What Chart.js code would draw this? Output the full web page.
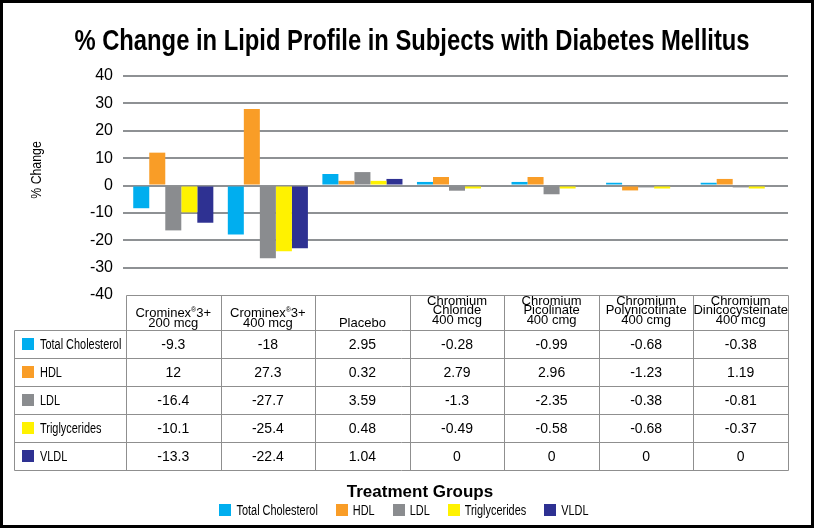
<!DOCTYPE html>
<html><head><meta charset="utf-8">
<script src="https://cdn.jsdelivr.net/npm/chart.js@4.4.1/dist/chart.umd.min.js"></script>
<style>html,body{margin:0;padding:0;background:#fff;} #wrap{width:814px;height:528px;position:relative;}</style>
</head><body><div id="wrap"><canvas id="c" width="814" height="528"></canvas></div>
<script>
const chartTitle = '% Change in Lipid Profile in Subjects with Diabetes Mellitus';
const yAxisTitle = '% Change';
const xAxisTitle = 'Treatment Groups';
const groups = [['Crominex®3+','200 mcg'],['Crominex®3+','400 mcg'],['Placebo'],['Chromium','Chloride','400 mcg'],['Chromium','Picolinate','400 cmg'],['Chromium','Polynicotinate','400 cmg'],['Chromium','Dinicocysteinate','400 mcg']];
const seriesNames = ['Total Cholesterol','HDL','LDL','Triglycerides','VLDL'];
// bar heights as drawn in the picture
const totalCholesterol = [-8.3,-17.9,4.2,1.3,1.3,1.0,1.0];
const hdl = [12.0,27.9,1.7,3.1,3.1,-1.8,2.4];
const ldl = [-16.4,-26.6,4.9,-1.9,-3.2,-0.7,-0.7];
const triglycerides = [-9.8,-24.0,1.7,-1.1,-1.1,-1.1,-1.1];
const vldl = [-13.6,-22.9,2.4,0,0,0,0];
// data table text
const tableTotalCholesterol = ['-9.3','-18','2.95','-0.28','-0.99','-0.68','-0.38'];
const tableHdl = ['12','27.3','0.32','2.79','2.96','-1.23','1.19'];
const tableLdl = ['-16.4','-27.7','3.59','-1.3','-2.35','-0.38','-0.81'];
const tableTriglycerides = ['-10.1','-25.4','0.48','-0.49','-0.58','-0.68','-0.37'];
const tableVldl = ['-13.3','-22.4','1.04','0','0','0','0'];
const yMin = -40, yMax = 40, yStep = 10;

const seriesColors = ['#00AEEF','#F99D27','#8A8C8F','#FFF200','#2E3192'];
const seriesData = [totalCholesterol, hdl, ldl, triglycerides, vldl];
const tableRows = [tableTotalCholesterol, tableHdl, tableLdl, tableTriglycerides, tableVldl];

const GRID = '#8e9194';
const TABLE_LINE = '#8f8f8f';
const SANS = "'Liberation Sans',Arial,sans-serif";

// draw text horizontally condensed (Arial Narrow look)
function narrowText(ctx, text, x, y, font, k, align) {
  ctx.save();
  ctx.font = font;
  const w = ctx.measureText(text).width * k;
  let sx = x;
  if (align === 'center') sx = x - w / 2; else if (align === 'right') sx = x - w;
  ctx.translate(sx, y); ctx.scale(k, 1);
  ctx.textAlign = 'left';
  ctx.fillText(text, 0, 0);
  ctx.restore();
  return w;
}
function narrowWidth(ctx, text, font, k) { ctx.save(); ctx.font = font; const w = ctx.measureText(text).width * k; ctx.restore(); return w; }

function drawRich(ctx, text, cx, y, size) {
  const parts = text.split('®');
  ctx.font = size + 'px ' + SANS;
  if (parts.length === 1) { ctx.textAlign = 'center'; ctx.fillText(text, cx, y); return; }
  const small = Math.round(size * 0.55);
  ctx.font = size + 'px ' + SANS; const w1 = ctx.measureText(parts[0]).width; const w3 = ctx.measureText(parts[1]).width;
  ctx.font = small + 'px ' + SANS; const w2 = ctx.measureText('®').width;
  let x = cx - (w1 + w2 + w3) / 2;
  ctx.textAlign = 'left';
  ctx.font = size + 'px ' + SANS; ctx.fillText(parts[0], x, y); x += w1;
  ctx.font = small + 'px ' + SANS; ctx.fillText('®', x, y - size * 0.38); x += w2;
  ctx.font = size + 'px ' + SANS; ctx.fillText(parts[1], x, y);
}

const decorPlugin = {
  id: 'decor',
  afterDraw(chart) {
    const ctx = chart.ctx, ca = chart.chartArea, xs = chart.scales.x;
    const n = chart.data.labels.length, w = (ca.right - ca.left) / n;
    ctx.save();
    ctx.fillStyle = '#000';
    ctx.textBaseline = 'alphabetic';
    // main title
    narrowText(ctx, chartTitle, 412, 50, 'bold 29px ' + SANS, 0.82, 'center');
    // y axis title
    ctx.save(); ctx.translate(37, 170); ctx.rotate(-Math.PI / 2);
    ctx.textBaseline = 'middle';
    narrowText(ctx, yAxisTitle, 0, 0, '15px ' + SANS, 0.82, 'center');
    ctx.restore();
    // table grid
    const top = Math.round(ca.bottom), headH = 35, rowH = 28, legL = 14;
    const bottom = top + headH + rowH * tableRows.length;
    const px = v => Math.round(v) + 0.5;
    ctx.strokeStyle = TABLE_LINE; ctx.lineWidth = 1;
    ctx.beginPath();
    ctx.moveTo(px(ca.left), px(top)); ctx.lineTo(px(ca.right), px(top));
    for (let r = 0; r <= tableRows.length; r++) {
      const y = px(top + headH + r * rowH);
      ctx.moveTo(px(legL), y); ctx.lineTo(px(ca.right), y);
    }
    ctx.moveTo(px(legL), px(top + headH)); ctx.lineTo(px(legL), px(bottom));
    for (let i = 0; i <= n; i++) {
      const x = px(ca.left + i * w);
      ctx.moveTo(x, px(top)); ctx.lineTo(x, px(bottom));
    }
    ctx.stroke();
    // headers
    ctx.fillStyle = '#000'; ctx.textBaseline = 'alphabetic';
    chart.data.labels.forEach((lab, i) => {
      const cx = xs.getPixelForValue(i);
      const lines = Array.isArray(lab) ? lab : [lab];
      const gap = lines.length === 3 ? 9.3 : 10;
      const last = lines.length === 3 ? top + 28.5 : top + 31.5;
      lines.forEach((t, k) => {
        drawRich(ctx, t, cx, last - (lines.length - 1 - k) * gap, 13);
      });
    });
    // rows
    tableRows.forEach((row, r) => {
      const cy = top + headH + r * rowH + rowH / 2;
      ctx.fillStyle = seriesColors[r];
      ctx.fillRect(22, Math.round(cy - 6), 12, 12);
      ctx.fillStyle = '#000';
      ctx.textBaseline = 'middle';
      narrowText(ctx, chart.data.datasets[r].label, 40, cy + 1, '14px ' + SANS, 0.78, 'left');
      ctx.textAlign = 'center'; ctx.font = '14px ' + SANS;
      row.forEach((v, i) => ctx.fillText(v, xs.getPixelForValue(i), cy + 1));
    });
    // x axis title
    ctx.textAlign = 'center'; ctx.textBaseline = 'alphabetic';
    ctx.font = 'bold 17px ' + SANS;
    ctx.fillText(xAxisTitle, 420, 497);
    // legend
    const lf = '14px ' + SANS, lk = 0.78, box = 12, tgap = 5, igap = 18;
    const items = chart.data.datasets.map((d, i) => ({ label: d.label, color: seriesColors[i], tw: narrowWidth(ctx, d.label, lf, lk) }));
    const total = items.reduce((s, it) => s + box + tgap + it.tw, 0) + igap * (items.length - 1);
    let lx = 404 - total / 2;
    const ly = 510;
    ctx.textBaseline = 'middle';
    items.forEach(it => {
      ctx.fillStyle = it.color; ctx.fillRect(Math.round(lx), ly - 6, box, box);
      ctx.fillStyle = '#000';
      narrowText(ctx, it.label, lx + box + tgap, ly + 1, lf, lk, 'left');
      lx += box + tgap + it.tw + igap;
    });
    // frame
    ctx.strokeStyle = '#000'; ctx.lineWidth = 3;
    ctx.strokeRect(1.5, 1.5, 811, 525);
    ctx.restore();
  }
};

new Chart(document.getElementById('c'), {
  type: 'bar',
  data: {
    labels: groups,
    datasets: seriesNames.map((name, i) => ({
      label: name, data: seriesData[i], backgroundColor: seriesColors[i], borderWidth: 0,
      categoryPercentage: 0.847, barPercentage: 1
    }))
  },
  options: {
    responsive: false, animation: false, devicePixelRatio: 1,
    layout: { padding: { top: 76, left: 0, right: 26, bottom: 41 } },
    plugins: {
      title: { display: false }, tooltip: { enabled: false }, legend: { display: false }
    },
    scales: {
      x: { ticks: { display: false }, grid: { display: false }, border: { display: false },
           afterFit(s) { s.height = 192; } },
      y: { min: yMin, max: yMax,
           ticks: { stepSize: yStep, color: '#000', font: { family: SANS, size: 16 }, padding: 10 },
           grid: { color: c => (c.tick && c.tick.value === yMin) ? 'rgba(0,0,0,0)' : GRID, lineWidth: 2, tickLength: 3, drawTicks: true },
           border: { display: false },
           afterFit(s) { s.width = 126; } }
    }
  },
  plugins: [decorPlugin]
});
</script>
</body></html>
